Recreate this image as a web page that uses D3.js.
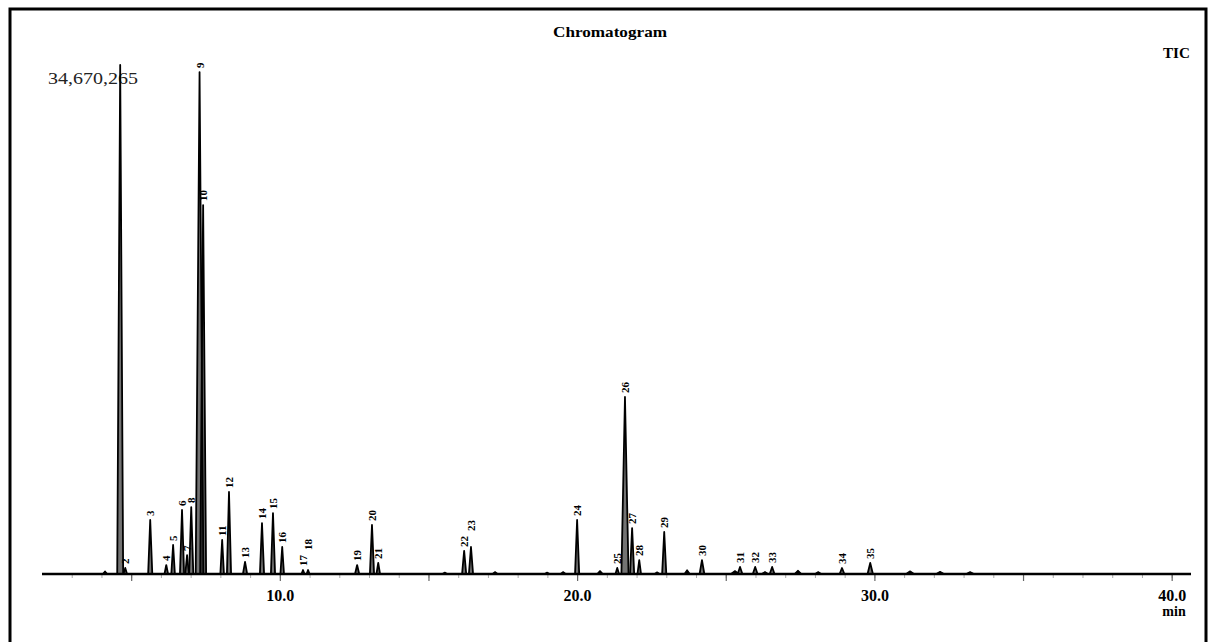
<!DOCTYPE html>
<html>
<head>
<meta charset="utf-8">
<script src="https://cdn.jsdelivr.net/npm/d3@7"></script>
<style>
  html, body { margin: 0; padding: 0; background: #fff; }
  svg { display: block; }
  text { font-family: "Liberation Serif", "Times New Roman", serif; }
</style>
</head>
<body>
<svg id="chart" width="1213" height="642"></svg>
<script>
// Retention time (min), peak height (counts) and peak half-width (min) of the numbered peaks
const peakLabels = ["1","2","3","4","5","6","7","8","9","10","11","12","13","14","15","16","17","18",
  "19","20","21","22","23","24","25","26","27","28","29","30","31","32","33","34","35"];
const retentionTimes = [4.63, 4.80, 5.64, 6.18, 6.41, 6.71, 6.88, 7.02, 7.30, 7.42, 8.06, 8.29, 8.83,
  9.40, 9.77, 10.08, 10.78, 10.95, 12.60, 13.10, 13.31, 16.20, 16.43, 20.00, 21.35, 21.61, 21.85,
  22.09, 22.93, 24.20, 25.48, 25.99, 26.56, 28.91, 29.86];
const peakHeights = [34670265, 410000, 3680000, 610000, 1980000, 4360000, 1290000, 4560000, 34190000,
  25130000, 2320000, 5590000, 820000, 3470000, 4150000, 1840000, 270000, 270000, 610000, 3340000,
  750000, 1570000, 1840000, 3680000, 410000, 12060000, 3130000, 950000, 2860000, 950000, 480000,
  480000, 480000, 410000, 750000];
const peakHalfWidths = [0.10, 0.06, 0.07, 0.06, 0.06, 0.07, 0.06, 0.07, 0.13, 0.10, 0.06, 0.07, 0.07,
  0.07, 0.07, 0.06, 0.05, 0.05, 0.07, 0.07, 0.06, 0.07, 0.07, 0.07, 0.06, 0.12, 0.07, 0.06, 0.07,
  0.08, 0.08, 0.08, 0.08, 0.08, 0.09];

// Small unnumbered peaks along the baseline
const minorTimes = [4.12, 15.55, 17.24, 18.99, 19.53, 20.77, 22.69, 23.70, 25.31, 26.32, 27.43, 28.11,
  31.20, 32.21, 33.22];
const minorHeights = [200000, 120000, 150000, 120000, 150000, 220000, 130000, 280000, 220000, 160000,
  250000, 150000, 200000, 170000, 150000];
const minorHalfWidths = [0.08, 0.1, 0.1, 0.1, 0.1, 0.1, 0.1, 0.1, 0.15, 0.12, 0.12, 0.12, 0.15, 0.15, 0.15];

// Axis
const timeRange = [2.0, 40.65];
const labelTicks = [10, 20, 30, 40];
const labelTickText = ["10.0", "20.0", "30.0", "40.0"];
const maxIntensityText = "34,670,265";

const svg = d3.select("#chart");

const x = d3.scaleLinear().domain(timeRange).range([42, 1191]);
const y = d3.scaleLinear().domain([0, peakHeights[0]]).range([574, 65]);

// Frame
svg.append("path")
  .attr("d", "M10,660 L10,9 L1206,9 L1206,660")
  .attr("fill", "none").attr("stroke", "#000").attr("stroke-width", 3);

// Title and trace name
svg.append("text").attr("x", 610).attr("y", 37).attr("text-anchor", "middle")
  .attr("font-size", 15).attr("font-weight", "bold")
  .attr("textLength", 114).attr("lengthAdjust", "spacingAndGlyphs")
  .text("Chromatogram");
svg.append("text").attr("x", 1163).attr("y", 58)
  .attr("font-size", 14).attr("font-weight", "bold")
  .attr("textLength", 27).attr("lengthAdjust", "spacingAndGlyphs")
  .text("TIC");
svg.append("text").attr("x", 48).attr("y", 84)
  .attr("font-size", 16).attr("fill", "#222")
  .attr("textLength", 90).attr("lengthAdjust", "spacingAndGlyphs")
  .text(maxIntensityText);

// Minor (1 min) and major (5 min) ticks below the baseline
const axisG = svg.append("g").attr("transform", `translate(0,${y(0)})`);
axisG.append("g")
  .call(d3.axisBottom(x).tickValues(d3.range(3, 41, 1)).tickSize(4).tickFormat(""))
  .call(g => g.select(".domain").remove())
  .call(g => g.selectAll("line").attr("stroke", "#aaa").attr("stroke-width", 1));
axisG.append("g")
  .call(d3.axisBottom(x).tickValues(d3.range(5, 41, 5)).tickSize(7).tickFormat(""))
  .call(g => g.select(".domain").remove())
  .call(g => g.selectAll("line").attr("stroke", "#666").attr("stroke-width", 1.2));
axisG.append("g")
  .call(d3.axisBottom(x).tickValues(labelTicks).tickSize(0).tickPadding(16)
    .tickFormat((d, i) => labelTickText[i]))
  .call(g => g.select(".domain").remove())
  .call(g => g.selectAll("text")
    .attr("font-family", "Liberation Serif, serif")
    .attr("font-size", 16).attr("font-weight", "bold").attr("fill", "#000"));
svg.append("text").attr("x", 1174).attr("y", 616).attr("text-anchor", "middle")
  .attr("font-size", 14).attr("font-weight", "bold").text("min");

// Baseline of the trace
svg.append("line")
  .attr("x1", x(timeRange[0])).attr("x2", x(timeRange[1]))
  .attr("y1", y(0)).attr("y2", y(0))
  .attr("stroke", "#000").attr("stroke-width", 2.5);

// Peaks
const line = d3.line().x(d => x(d[0])).y(d => y(d[1]));
const peakShape = (t, h, w) => [[t - w, 0], [t, h], [t + w, 0]];

const minor = minorTimes.map((t, i) => ({ t, h: minorHeights[i], w: minorHalfWidths[i] }));
svg.append("g").selectAll("path").data(minor).join("path")
  .attr("d", d => line(peakShape(d.t, d.h, d.w)))
  .attr("fill", "#000").attr("stroke", "#000").attr("stroke-width", 1.2)
  .attr("stroke-linejoin", "round");

const peaks = retentionTimes.map((t, i) => ({
  label: peakLabels[i], t, h: peakHeights[i], w: peakHalfWidths[i]
}));
svg.append("g").selectAll("path").data(peaks).join("path")
  .attr("d", d => line(peakShape(d.t, d.h, d.w)))
  .attr("fill", "#000").attr("fill-opacity", 0.55)
  .attr("stroke", "#000").attr("stroke-width", 1.8)
  .attr("stroke-linejoin", "round");

// Peak numbers, written upward above each apex; nudged up when they would collide.
// The full-scale peak carries the intensity readout instead of a number.
const labelled = peaks.filter(d => d.h < peakHeights[0]);
const placed = [];
labelled.forEach(d => {
  const px = x(d.t);
  let bottom = y(d.h) - 4;
  const len = d.label.length * 6 + 2;
  placed.forEach(p => {
    if (Math.abs(p.x - px) < 7 && bottom > p.top - 1 && bottom - len < p.bottom) bottom = p.top - 2;
  });
  placed.push({ x: px, bottom, top: bottom - len });
  d.lx = px + 4; d.ly = bottom;
});
svg.append("g").selectAll("text").data(labelled).join("text")
  .attr("transform", d => `translate(${d.lx},${d.ly}) rotate(-90)`)
  .attr("font-size", 11).attr("font-weight", "bold")
  .text(d => d.label);
</script>
</body>
</html>
